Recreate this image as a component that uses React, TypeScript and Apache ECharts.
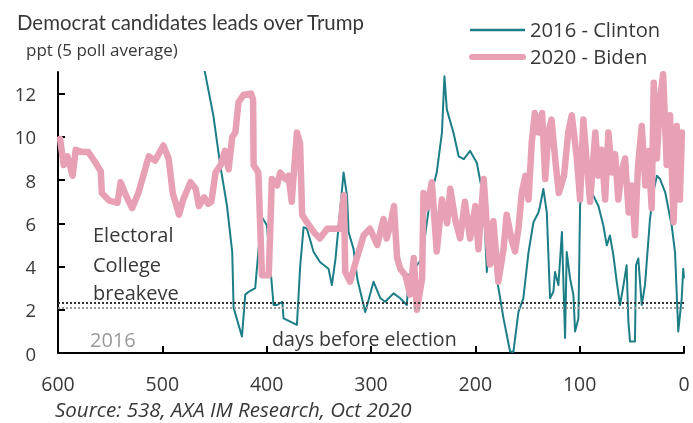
import React, { useEffect, useRef } from "react";
import * as echarts from "echarts";

// [days before election, lead in ppt]
const clinton2016: [number, number][] = [
  [464, 14.0], [459, 12.95], [451, 10.96], [444.4, 8.66], [438, 6.8], [433, 4.67], [431.7, 2.1], [423.7, 0.76],
  [420.5, 2.7], [417.3, 2.83], [411, 3.0], [407.7, 4.83], [404.5, 6.28], [399.7, 5.9], [396.6, 4.06], [393.4, 2.22],
  [390, 2.22], [385, 2.37], [383.8, 1.6], [371, 1.3], [367.8, 4.06], [364.6, 5.82], [361.4, 5.75], [355, 4.67],
  [348.7, 4.2], [340.7, 3.9], [337.5, 3.14], [334, 4.37], [329.5, 6.67], [326.3, 8.35], [323, 7.28], [321.5, 5.6],
  [316.8, 4.83], [313, 3.4], [305.5, 1.9], [297.6, 3.3], [291, 2.53], [286.4, 2.37], [278.4, 2.76], [272, 2.53],
  [265.6, 2.22], [264, 3.6], [256, 4.06], [251.2, 4.37], [243.3, 7.13], [237, 8.35], [232, 10.2], [229.6, 12.8],
  [227.3, 11.26], [221, 10.2], [216, 9.1], [211, 8.97], [205, 9.35], [198.6, 8.8], [192, 7.13], [189, 3.75],
  [186, 5.6], [179.4, 3.45], [173, 1.6], [166.7, 0.07], [163.5, 0.05], [158.7, 1.9], [154, 2.53], [149, 4.67],
  [144.3, 6.05], [139.5, 6.5], [138, 6.8], [134.8, 7.59], [131.5, 6.5], [128.4, 2.53], [125.2, 2.83], [123.6, 3.75],
  [120.4, 3.14], [117, 5.6], [114, 0.69], [112.4, 4.67], [109.2, 3.45], [106, 2.68], [104.4, 1.0], [101.2, 1.6],
  [99.6, 6.8], [96.5, 8.97], [91.6, 8.2], [86.9, 7.28], [82, 6.8], [77.3, 5.9], [74, 4.98], [71, 5.44],
  [67.7, 4.53], [64.5, 3.3], [61.3, 2.22], [58, 3.14], [55, 4.06], [53.3, 1.45], [51.7, 0.53], [47, 0.53],
  [46, 4.06], [43.8, 4.37], [40.5, 2.22], [37.4, 3.14], [32.6, 6.2], [29.4, 7.43], [26, 8.2], [23, 8.05],
  [18, 7.43], [11.8, 5.9], [8.6, 4.67], [5.5, 1.0], [2.2, 2.53], [0.7, 3.9], [0, 3.45],
];

const biden2020: [number, number][] = [
  [598, 9.9], [594.5, 8.7], [591, 9.1], [586, 8.2], [583, 9.4], [577, 9.3], [571, 9.3], [564, 8.8],
  [559, 8.4], [558, 7.4], [551, 7.05], [543, 6.95], [540, 7.9], [535, 7.3], [529, 6.7], [523, 7.4],
  [513, 9.1], [507, 8.9], [499, 9.6], [494, 9.0], [490, 7.4], [484, 6.4], [480, 7.1], [473, 7.9],
  [468, 7.6], [465, 6.8], [460, 7.2], [456, 6.9], [453, 7.0], [449, 8.35], [444, 8.7], [440, 9.35],
  [436.5, 8.5], [433, 10.0], [430, 10.2], [427, 11.6], [422, 11.95], [415, 12.0], [413, 11.7], [412.5, 8.7],
  [408, 8.35], [404.5, 3.6], [398, 3.6], [395, 8.05], [390, 7.75], [387, 8.35], [382, 8.05], [379, 8.2],
  [376, 7.0], [371, 10.2], [368, 9.7], [366, 6.4], [361.5, 6.05], [355, 5.6], [349, 5.3], [342, 5.75],
  [336, 5.75], [329.5, 5.75], [326, 7.3], [324.7, 3.75], [320, 3.3], [313.5, 4.4], [307, 5.45], [301, 5.75],
  [294, 5.0], [288, 6.2], [285, 5.3], [281.6, 5.9], [278, 6.8], [275, 4.4], [272, 3.9], [267, 3.6],
  [262.5, 2.7], [259, 4.4], [256, 2.0], [251, 3.45], [249.7, 7.4], [246.5, 6.7], [241.7, 7.9], [237, 4.7],
  [232, 7.1], [227, 6.0], [224, 7.6], [219, 6.1], [214.5, 5.3], [210, 7.0], [205, 5.3], [200, 6.8],
  [197, 4.8], [192, 8.05], [189, 5.9], [186, 4.1], [182.7, 6.1], [178, 3.3], [173, 4.8], [170, 6.4],
  [165, 5.2], [162, 4.7], [158.7, 5.75], [155.5, 7.4], [152, 8.2], [149, 7.1], [146, 9.7], [143, 11.1],
  [139.5, 10.2], [136, 11.1], [133, 8.05], [130, 10.2], [127, 10.8], [123.5, 9.0], [120, 7.4], [115, 8.2],
  [111, 10.2], [107.5, 11.0], [102.7, 9.0], [99.6, 7.1], [96.5, 10.8], [93, 8.7], [90, 7.0], [85, 10.2],
  [82, 8.2], [79, 9.4], [75.6, 7.1], [72.5, 10.2], [69, 8.35], [66, 9.2], [63, 7.1], [60, 8.35],
  [56.5, 9.0], [53, 6.5], [50, 7.75], [47, 5.45], [44, 8.7], [40.5, 10.5], [37, 7.75], [34, 9.35],
  [31, 6.7], [29, 12.5], [26, 9.0], [23, 11.7], [20, 12.9], [16.6, 8.7], [13.4, 11.0], [10, 6.05],
  [7, 10.5], [4, 7.1], [2, 10.2],
];

const breakeven2020 = 2.33;
const breakeven2016 = 2.08;
const yTicks = [0, 2, 4, 6, 8, 10, 12];

const seriesNames = ["2016 - Clinton", "2020 - Biden"];
const TEAL = "#1c7e86";
const PINK = "#e8a0b5";
const FONT = "Open Sans";
const INK = "#383838";

const txt = (text: string, x: number, y: number, fontSize: number, extra: any = {}) => ({
  type: "text",
  x,
  y,
  style: { text, fontSize, fill: INK, fontFamily: FONT, textVerticalAlign: "middle", ...extra },
});

export default function App() {
  const ref = useRef<HTMLDivElement>(null);
  useEffect(() => {
    if (!ref.current) return;
    const chart = echarts.init(ref.current, undefined, { renderer: "svg" });
    chart.setOption({
      animation: false,
      textStyle: { fontFamily: FONT },
      grid: { left: 58, right: 9, top: 72, bottom: 70, containLabel: false },
      xAxis: {
        type: "value",
        inverse: true,
        min: 0,
        max: 600,
        interval: 100,
        splitLine: { show: false },
        axisLine: { show: true, onZero: false, lineStyle: { color: "#000", width: 2 } },
        axisTick: { show: true, inside: true, length: 7, lineStyle: { color: "#000", width: 2 } },
        axisLabel: { fontSize: 19.5, color: INK, margin: 20, fontFamily: FONT },
      },
      yAxis: {
        type: "value",
        position: "left",
        min: 0,
        max: 13,
        interval: 2,
        splitLine: { show: false },
        axisLine: { show: true, onZero: false, lineStyle: { color: "#000", width: 2 } },
        axisTick: { show: true, inside: true, length: 7, lineStyle: { color: "#000", width: 2 }, customValues: yTicks },
        axisLabel: { fontSize: 18.5, color: INK, margin: 22, fontFamily: FONT, customValues: yTicks },
      },
      series: [
        {
          name: seriesNames[0],
          type: "line",
          data: clinton2016,
          symbol: "none",
          lineStyle: { color: TEAL, width: 2, join: "round" },
          z: 2,
          markLine: {
            silent: true,
            symbol: ["none", "none"],
            label: { show: false },
            data: [
              { yAxis: breakeven2020, lineStyle: { color: "#333", type: [2, 2], width: 2 } },
              { yAxis: breakeven2016, lineStyle: { color: "#999", type: [2, 2], width: 2 } },
            ],
          },
        },
        {
          name: seriesNames[1],
          type: "line",
          data: biden2020,
          symbol: "none",
          lineStyle: { color: PINK, width: 6.5, cap: "round", join: "round" },
          z: 3,
        },
      ],
      graphic: [
        txt("Democrat candidates leads over Trump", 17, 22, 20.4, { fontFamily: "Lato" }),
        txt("ppt (5 poll average)", 26, 49, 17),
        { type: "line", shape: { x1: 470, y1: 30, x2: 525, y2: 30 }, style: { stroke: TEAL, lineWidth: 2.5 } },
        txt(seriesNames[0], 530, 29, 20.2),
        { type: "line", shape: { x1: 472, y1: 57, x2: 523, y2: 57 }, style: { stroke: PINK, lineWidth: 6, lineCap: "round" } },
        txt(seriesNames[1], 530, 56, 20.2),
        txt("Electoral", 93, 234.5, 20),
        txt("College", 93, 264, 20),
        txt("breakeve", 93, 292, 20),
        txt("2016", 90, 339, 20, { fill: "#9a9a9a" }),
        txt("days before election", 272, 338, 19.6),
        txt("Source: 538, AXA IM Research, Oct 2020", 55, 409, 20.5, { fontStyle: "italic" }),
      ],
    });
    return () => chart.dispose();
  }, []);
  return <div ref={ref} style={{ position: "fixed", left: 0, top: 0, width: 693, height: 423 }} />;
}
